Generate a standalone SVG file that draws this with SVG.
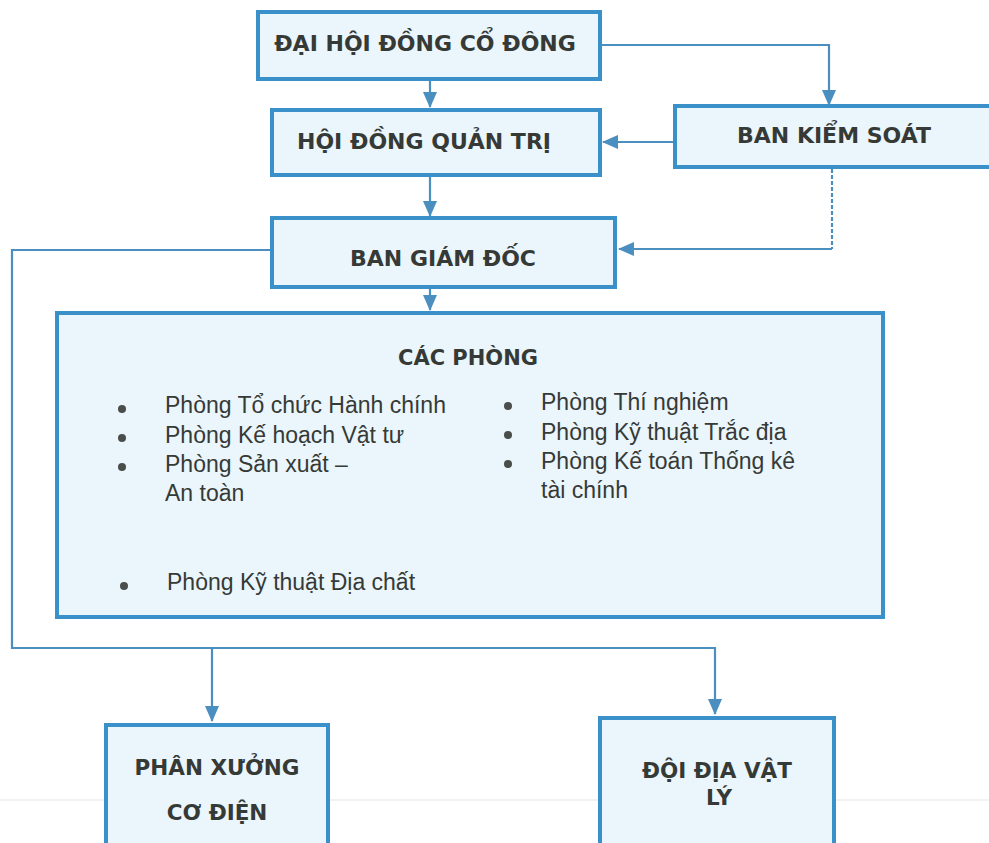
<svg xmlns="http://www.w3.org/2000/svg" width="989" height="843" viewBox="0 0 989 843">
<style>
.box{fill:#eaf5fc;stroke:#3a90c9;stroke-width:4}
.h{font-family:"DejaVu Sans","Liberation Sans",sans-serif;font-weight:bold;fill:#363a36;text-anchor:middle}
.t{font-family:"Liberation Sans","DejaVu Sans",sans-serif;font-size:23px;fill:#363a36}
.c{fill:none;stroke:#4a8fc0;stroke-width:2.2}
.d{fill:none;stroke:#4a8fc0;stroke-width:2.2;stroke-dasharray:4 2}
.dot{fill:#4a4d4a}
</style>
<defs>
<marker id="ah" viewBox="0 0 16 14" refX="15" refY="7" markerWidth="16" markerHeight="14" markerUnits="userSpaceOnUse" orient="auto">
<path d="M0,0 L16,7 L0,14 Z" fill="#4a8fc0"/>
</marker>
</defs>
<rect width="989" height="843" fill="#ffffff"/>
<line x1="0" y1="800" x2="989" y2="800" stroke="#eeeeee" stroke-width="1.5"/>
<g id="connectors">
<path class="c" d="M430,80 V107" marker-end="url(#ah)"/>
<path class="c" d="M602,45 H829 V105" marker-end="url(#ah)"/>
<path class="c" d="M674,142 H603" marker-end="url(#ah)"/>
<path class="c" d="M430,176 V216" marker-end="url(#ah)"/>
<path class="d" d="M832,169 V249"/>
<path class="c" d="M832,249 H619" marker-end="url(#ah)"/>
<path class="c" d="M430,288 V310" marker-end="url(#ah)"/>
<path class="c" d="M271,250 H12 V648 H715 V714" marker-end="url(#ah)"/>
<path class="c" d="M212,648 V721" marker-end="url(#ah)"/>
</g>
<g id="dhdcd">
<rect class="box" x="258" y="12" width="342" height="67"/>
<text class="h" x="425" y="51" font-size="22">ĐẠI HỘI ĐỒNG CỔ ĐÔNG</text>
</g>
<g id="hdqt">
<rect class="box" x="272" y="110" width="328" height="65"/>
<text class="h" x="424" y="149" font-size="22">HỘI ĐỒNG QUẢN TRỊ</text>
</g>
<g id="bks">
<rect class="box" x="675" y="106" width="330" height="61"/>
<text class="h" x="834" y="143" font-size="22">BAN KIỂM SOÁT</text>
</g>
<g id="bgd">
<rect class="box" x="272" y="218" width="343" height="69"/>
<text class="h" x="443" y="266" font-size="22">BAN GIÁM ĐỐC</text>
</g>
<g id="cacphong">
<rect class="box" x="57" y="313" width="826" height="304"/>
<text class="h" x="468" y="365" font-size="21">CÁC PHÒNG</text>
<circle class="dot" cx="122" cy="409" r="4"/>
<circle class="dot" cx="122" cy="438" r="4"/>
<circle class="dot" cx="122" cy="467" r="4"/>
<circle class="dot" cx="124" cy="586" r="4"/>
<circle class="dot" cx="508" cy="406" r="4"/>
<circle class="dot" cx="508" cy="435" r="4"/>
<circle class="dot" cx="508" cy="464" r="4"/>
<text class="t" x="165" y="413">Phòng Tổ chức Hành chính</text>
<text class="t" x="165" y="443">Phòng Kế hoạch Vật tư</text>
<text class="t" x="165" y="472">Phòng Sản xuất –</text>
<text class="t" x="165" y="501">An toàn</text>
<text class="t" x="167" y="590">Phòng Kỹ thuật Địa chất</text>
<text class="t" x="541" y="410">Phòng Thí nghiệm</text>
<text class="t" x="541" y="440">Phòng Kỹ thuật Trắc địa</text>
<text class="t" x="541" y="469">Phòng Kế toán Thống kê</text>
<text class="t" x="541" y="498">tài chính</text>
</g>
<g id="pxcd">
<rect class="box" x="106" y="725" width="222" height="130"/>
<text class="h" x="217" y="775" font-size="21.5">PHÂN XƯỞNG</text>
<text class="h" x="217" y="820" font-size="21.5">CƠ ĐIỆN</text>
</g>
<g id="ddvl">
<rect class="box" x="600" y="718" width="234" height="137"/>
<text class="h" x="717" y="778" font-size="21.5">ĐỘI ĐỊA VẬT</text>
<text class="h" x="719" y="805" font-size="21.5">LÝ</text>
</g>
</svg>
